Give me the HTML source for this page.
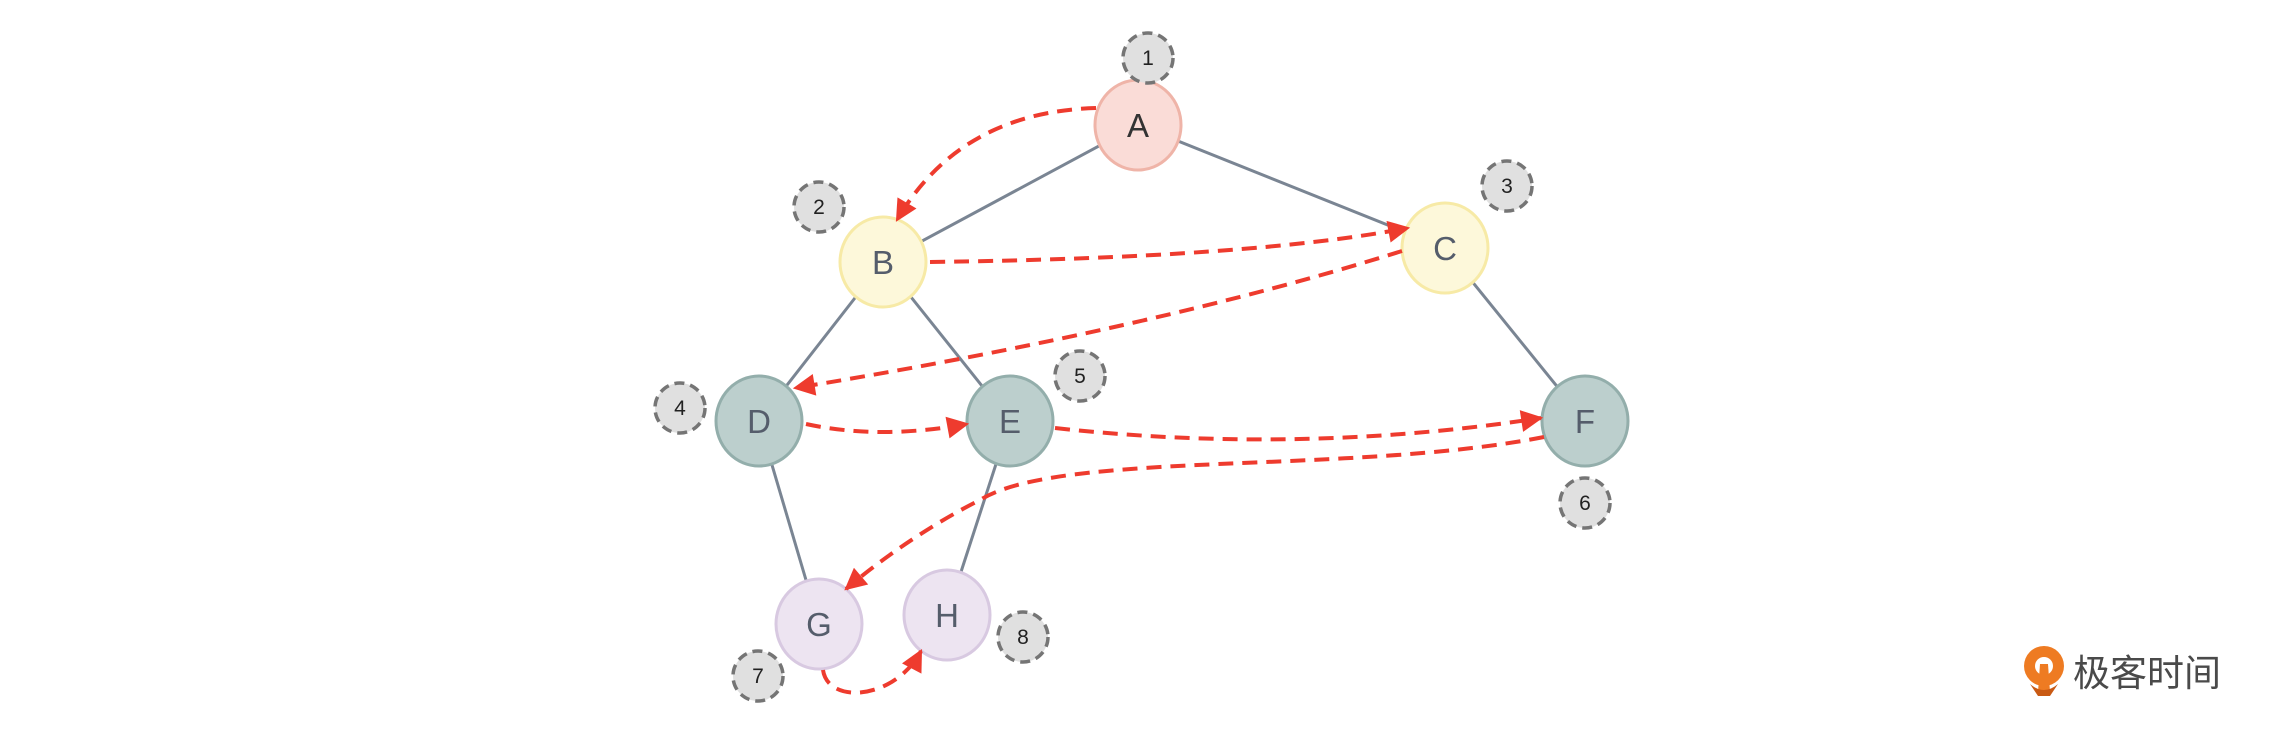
<!DOCTYPE html>
<html><head><meta charset="utf-8"><style>
html,body{margin:0;padding:0;background:#fff;}
svg{display:block;}
text{font-family:"Liberation Sans","Noto Sans CJK SC",sans-serif;}
</style></head><body>
<svg width="2284" height="736" viewBox="0 0 2284 736" xmlns="http://www.w3.org/2000/svg">
<defs>
<marker id="a" viewBox="0 0 10 10" refX="9" refY="5" markerWidth="26" markerHeight="22" orient="auto" markerUnits="userSpaceOnUse"><path d="M0,0 L10,5 L0,10 z" fill="#ee3b2e"/></marker>
</defs>
<g stroke="#7a8593" stroke-width="3">
<line x1="1138" y1="125" x2="883" y2="262"/>
<line x1="1138" y1="125" x2="1445" y2="248"/>
<line x1="883" y1="262" x2="759" y2="421"/>
<line x1="883" y1="262" x2="1010" y2="421"/>
<line x1="1445" y1="248" x2="1585" y2="421"/>
<line x1="759" y1="421" x2="819" y2="624"/>
<line x1="1010" y1="421" x2="947" y2="615"/>
</g>
<g font-size="33" text-anchor="middle">
<ellipse cx="1138" cy="125" rx="43" ry="45" fill="#fadcd7" stroke="#efb4a8" stroke-width="3"/>
<text x="1138" y="137" fill="#333">A</text>
<ellipse cx="883" cy="262" rx="43" ry="45" fill="#fdf8da" stroke="#f7eaa6" stroke-width="3"/>
<text x="883" y="274" fill="#555d6b">B</text>
<ellipse cx="1445" cy="248" rx="43" ry="45" fill="#fdf8da" stroke="#f7eaa6" stroke-width="3"/>
<text x="1445" y="260" fill="#555d6b">C</text>
<ellipse cx="759" cy="421" rx="43" ry="45" fill="#bccfcd" stroke="#93aeab" stroke-width="3"/>
<text x="759" y="433" fill="#555d6b">D</text>
<ellipse cx="1010" cy="421" rx="43" ry="45" fill="#bccfcd" stroke="#93aeab" stroke-width="3"/>
<text x="1010" y="433" fill="#555d6b">E</text>
<ellipse cx="1585" cy="421" rx="43" ry="45" fill="#bccfcd" stroke="#93aeab" stroke-width="3"/>
<text x="1585" y="433" fill="#555d6b">F</text>
<ellipse cx="819" cy="624" rx="43" ry="45" fill="#ede4f1" stroke="#d8c9e1" stroke-width="3"/>
<text x="819" y="636" fill="#555d6b">G</text>
<ellipse cx="947" cy="615" rx="43" ry="45" fill="#ede4f1" stroke="#d8c9e1" stroke-width="3"/>
<text x="947" y="627" fill="#555d6b">H</text>
</g>
<g fill="#e0e0e0" stroke="#757575" stroke-width="3.5" stroke-dasharray="10,6">
<circle cx="1148" cy="58" r="25"/>
<circle cx="819" cy="207" r="25"/>
<circle cx="1507" cy="186" r="25"/>
<circle cx="680" cy="408" r="25"/>
<circle cx="1080" cy="376" r="25"/>
<circle cx="1585" cy="503" r="25"/>
<circle cx="758" cy="676" r="25"/>
<circle cx="1023" cy="637" r="25"/>
</g>
<g font-size="21" text-anchor="middle" fill="#222">
<text x="1148" y="65">1</text>
<text x="819" y="214">2</text>
<text x="1507" y="193">3</text>
<text x="680" y="415">4</text>
<text x="1080" y="383">5</text>
<text x="1585" y="510">6</text>
<text x="758" y="683">7</text>
<text x="1023" y="644">8</text>
</g>
<g fill="none" stroke="#ee3b2e" stroke-width="4" stroke-dasharray="15,9" marker-end="url(#a)">
<path d="M1096,108 Q960,112 897,220"/>
<path d="M930,262 Q1250,258 1408,228"/>
<path d="M1402,251 Q1150,330 795,388"/>
<path d="M806,424 Q880,440 967,424"/>
<path d="M1055,428 Q1300,455 1541,418"/>
<path d="M1544,437 C1350,475 1060,450 980,500 C930,525 880,560 846,589"/>
<path d="M823,670 C828,705 895,700 921,651"/>
</g>
<g transform="translate(2044,670)">
<circle cx="0" cy="-4" r="20" fill="#ee7b22"/>
<circle cx="0" cy="-4" r="9" fill="#fff"/>
<path d="M-4,-6 L4,-6 L6,22 L-6,22 z" fill="#ee7b22"/>
<path d="M-14,14 Q0,26 14,14 L6,26 L-6,26 z" fill="#c95a14"/>
</g>
<text x="2073" y="686" font-size="37" fill="#4a4a4a" font-family="'Liberation Sans','Noto Sans CJK SC',sans-serif">极客时间</text>
</svg>
</body></html>
